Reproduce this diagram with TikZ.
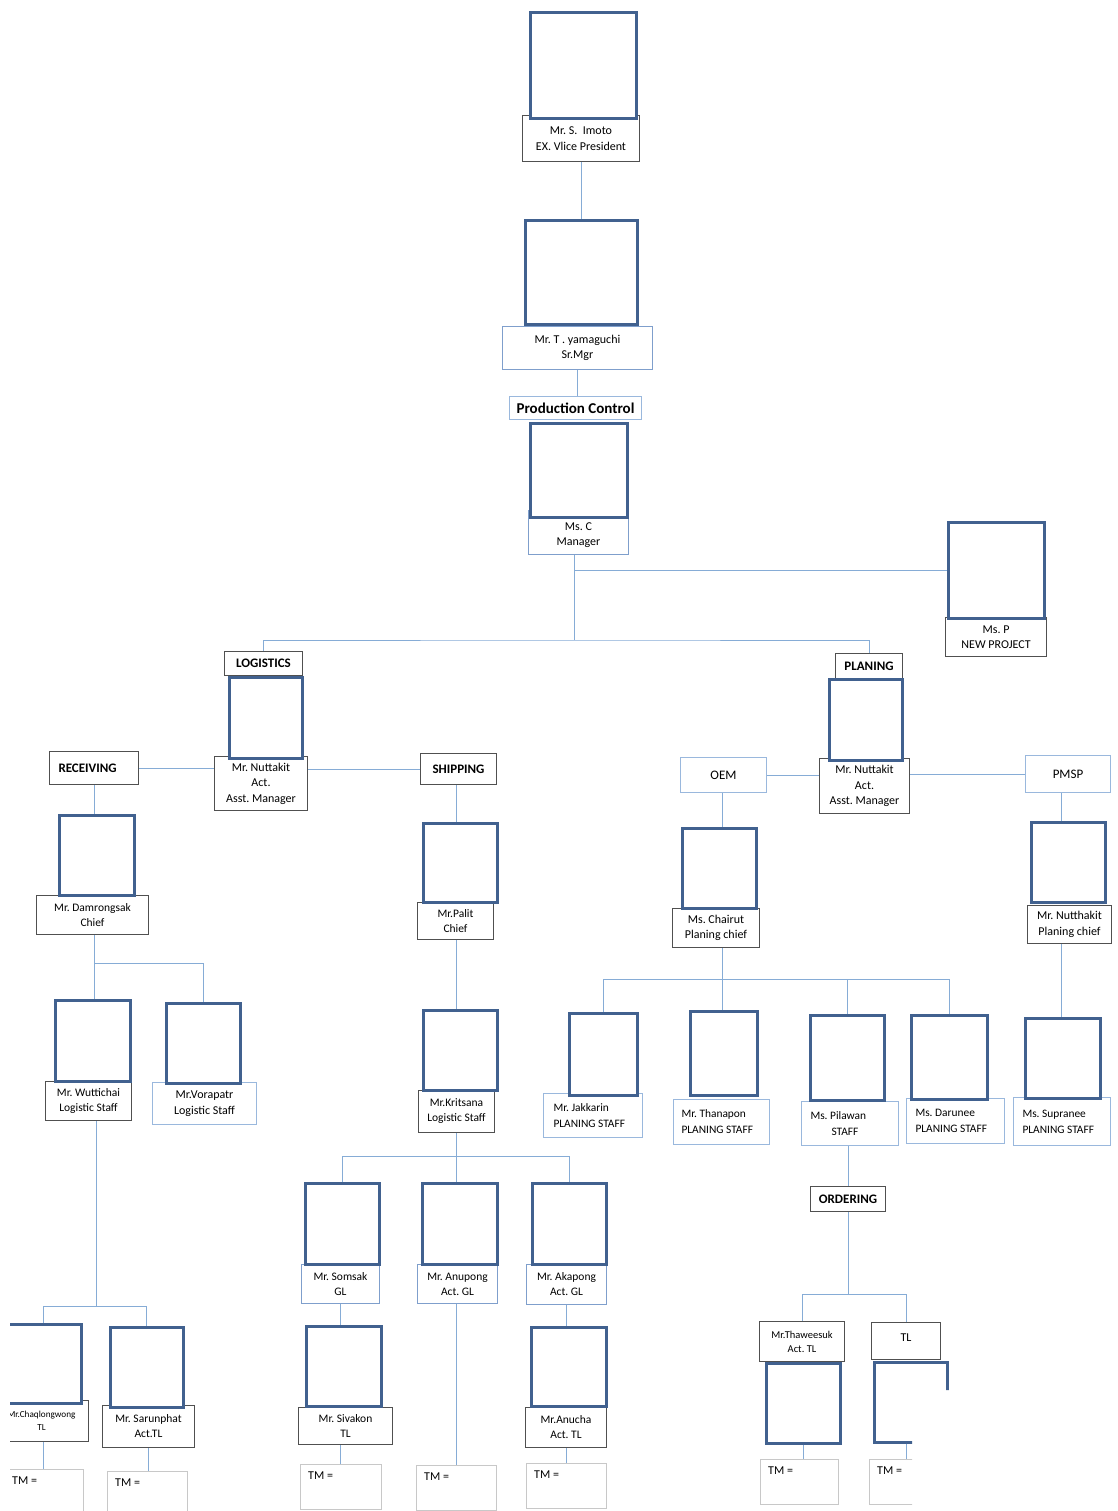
\documentclass[tikz,border=0pt]{standalone}
\usepackage{fontspec}
\setmainfont{Carlito}
\usetikzlibrary{calc}
\definecolor{photoC}{HTML}{41618F}
\definecolor{darkC}{HTML}{505050}
\definecolor{blueB}{HTML}{7F9FCC}
\definecolor{lblueB}{HTML}{9AB8DD}
\definecolor{connC}{HTML}{86ACD6}
\definecolor{tmC}{HTML}{C8C8C8}
\newcommand\fs[2]{\fontsize{#1}{#2}\selectfont}
% box from its top-left to its bottom-right corner
\newcommand\bx[7]{\node[#1,anchor=north west,inner sep=0pt,minimum width={#5-#3},minimum height={#6-#4}] (#2) at (#3,#4) {#7};}
\tikzset{
  photo/.style={draw=photoC, line width=2.6pt, fill=white},
  lab/.style={draw=darkC, line width=1pt, fill=white, align=center, font=\fs{12}{15.5}},
  fsS/.style={font=\fs{11.5}{15}},
  bluelab/.style={lab, draw=blueB},
  lbluelab/.style={lab, draw=lblueB},
  hdr/.style={draw=darkC, line width=1pt, fill=white, font=\bfseries\fs{13}{15}},
  stafflab/.style={lab, draw=lblueB, align=flush left, text width=#1, font=\fs{11.4}{16}},
  tm/.style={draw=tmC, line width=1pt, fill=white,
    label={[anchor=north west, inner sep=0pt, font=\fs{12}{14}, xshift=8pt, yshift=-8pt]north west:TM =}},
  conn/.style={draw=connC, line width=0.95pt},
}
\frenchspacing
\begin{document}
\begin{tikzpicture}[x=1pt,y=-1pt]
\useasboundingbox (0,0) rectangle (1117,1511);
\fill[white] (0,0) rectangle (1117,1511);
\clip (0,0) rectangle (1117,1511);

% ---- top of the chart
\bx{lab}{imotoL}{522}{115}{639}{161}{Mr. S.\ \ Imoto\\EX. Vlice President}
\bx{photo}{imotoP}{529}{11}{635}{117}{}
\bx{bluelab}{yamaL}{502}{326}{652}{369}{Mr. T . yamaguchi\\Sr.Mgr}
\bx{photo}{yamaP}{524}{219}{636}{323}{}
\bx{hdr,draw=lblueB,font=\bfseries\fs{15}{17}}{pc}{509}{396}{641}{419}{Production Control}
\bx{bluelab}{mscL}{528}{510}{628}{554}{\rule{0pt}{13pt}Ms. C\\Manager}
\bx{photo}{mscP}{529}{422}{626}{516}{}
\bx{lab}{mspL}{945}{617}{1046}{656}{Ms. P\\NEW PROJECT}
\bx{photo}{mspP}{947}{521}{1043}{617}{}

% ---- logistics
\bx{hdr}{logH}{224}{651}{302}{675}{LOGISTICS}
\bx{lab}{lnutL}{214}{756}{307}{810}{Mr. Nuttakit\\Act.\\Asst. Manager}
\bx{photo}{lnutP}{228}{676}{301}{757}{}
\bx{hdr,align=flush left,text width=71pt}{recv}{49}{751}{138}{784}{RECEIVING}
\bx{hdr}{ship}{420}{753}{496}{784}{SHIPPING}
\bx{lab,fsS}{damL}{36}{895}{148}{934}{Mr. Damrongsak\\Chief}
\bx{photo}{damP}{58}{814}{133}{894}{}
\bx{lab,fsS}{wutL}{45}{1081}{131}{1120}{Mr. Wuttichai\\Logistic Staff}
\bx{photo}{wutP}{54}{999}{129}{1080}{}
\bx{lbluelab}{vorL}{152}{1082}{256}{1124}{Mr.Vorapatr\\Logistic Staff}
\bx{photo}{vorP}{165}{1002}{239}{1082}{}

\begin{scope}
  \clip (10,1290) rectangle (100,1511);
  \bx{lab,font=\fs{9.2}{13}}{chaL}{-6}{1400}{88}{1441}{Mr.Chaqlongwong\\TL}
  \bx{photo}{chaP}{5}{1323}{80}{1402}{}
  \bx{tm}{chaTM}{4}{1469}{83}{1520}{}
\end{scope}
\bx{lab,fsS}{sarL}{102}{1405}{194}{1447}{Mr. Sarunphat\\Act.TL}
\bx{photo}{sarP}{109}{1326}{182}{1406}{}
\bx{tm}{sarTM}{107}{1471}{187}{1520}{}

% ---- shipping
\bx{lab,fsS}{palL}{417}{902}{493}{939}{Mr.Palit\\Chief}
\bx{photo}{palP}{422}{822}{496}{901}{}
\bx{lab,fsS}{kriL}{418}{1090}{494}{1132}{Mr.Kritsana\\Logistic Staff}
\bx{photo}{kriP}{422}{1009}{496}{1089}{}
\bx{bluelab,fsS}{somL}{301}{1264}{379}{1303}{Mr. Somsak\\GL}
\bx{photo}{somP}{304}{1182}{378}{1263}{}
\bx{bluelab,fsS}{anuL}{417}{1264}{497}{1303}{Mr. Anupong\\Act. GL}
\bx{photo}{anuP}{421}{1182}{496}{1263}{}
\bx{bluelab,fsS}{akaL}{526}{1264}{606}{1304}{Mr. Akapong\\Act. GL}
\bx{photo}{akaP}{531}{1182}{605}{1263}{}
\bx{lab,fsS}{sivL}{298}{1407}{392}{1444}{Mr. Sivakon\\TL}
\bx{photo}{sivP}{305}{1325}{380}{1405}{}
\bx{tm}{sivTM}{300}{1464}{381}{1509}{}
\bx{tm}{anuTM}{416}{1465}{496}{1510}{}
\bx{lab,fsS}{anuchL}{525}{1407}{606}{1447}{Mr.Anucha\\Act. TL}
\bx{photo}{anuchP}{530}{1326}{605}{1405}{}
\bx{tm}{anuchTM}{526}{1463}{606}{1508}{}

% ---- planning
\bx{hdr}{planH}{835}{653}{902}{678}{PLANING}
\bx{lab}{pnutL}{819}{758}{909}{813}{Mr. Nuttakit\\Act.\\Asst. Manager}
\bx{photo}{pnutP}{828}{678}{901}{759}{}
\bx{lbluelab,font=\fs{13}{15}}{oem}{680}{757}{766}{792}{OEM}
\bx{lbluelab,font=\fs{13}{15}}{pmsp}{1025}{755}{1110}{792}{PMSP}
\bx{lab}{chaiL}{672}{908}{759}{947}{Ms. Chairut\\Planing chief}
\bx{photo}{chaiP}{681}{827}{755}{907}{}
\bx{lab}{nutL}{1027}{905}{1111}{943}{Mr. Nutthakit\\Planing chief}
\bx{photo}{nutP}{1030}{821}{1104}{901}{}
\bx{stafflab=79pt}{supL}{1013}{1097}{1110}{1145}{Ms. Supranee\\PLANING STAFF}
\bx{photo}{supP}{1024}{1017}{1099}{1097}{}
\bx{stafflab=79pt}{jakL}{543}{1093}{642}{1137}{Mr. Jakkarin\\PLANING STAFF}
\bx{photo}{jakP}{568}{1012}{636}{1094}{}
\bx{stafflab=80pt}{thaL}{673}{1099}{769}{1144}{Mr. Thanapon\\PLANING STAFF}
\bx{photo}{thaP}{689}{1010}{756}{1094}{}
\bx{stafflab=79pt}{pilL}{801}{1101}{898}{1145}{Ms. Pilawan\\\hspace*{21pt}STAFF}
\bx{photo}{pilP}{809}{1014}{883}{1099}{}
\bx{stafflab=80pt}{darL}{906}{1098}{1004}{1143}{Ms. Darunee\\PLANING STAFF}
\bx{photo}{darP}{910}{1014}{986}{1098}{}
\bx{hdr}{ord}{810}{1186}{885}{1211}{ORDERING}
\bx{lab,font=\fs{10.5}{14}}{thawL}{759}{1321}{844}{1361}{Mr.Thaweesuk\\Act. TL}
\bx{photo}{thawP}{765}{1362}{839}{1442}{}
\bx{tm}{thawTM}{760}{1459}{838}{1504}{}
\begin{scope}
  \clip (860,1300) -- (960,1300) -- (960,1390) -- (912,1390) -- (912,1511) -- (860,1511) -- cycle;
  \bx{lab,font=\fs{12}{15}}{tlL}{871}{1322}{940}{1359}{\smash{TL}}
  \bx{photo}{tlP}{873}{1361}{946}{1441}{}
  \bx{tm}{tlTM}{869}{1459}{950}{1504}{}
  \draw[conn] (tlP.south -| tlL.north) -- (tlL.north |- tlTM.north);
\end{scope}

% ---- connectors
\draw[conn] (imotoL.south) -- (imotoL.south |- yamaP.north);
\draw[conn] (yamaL.south) -- (yamaL.south |- pc.north);
\coordinate (jc) at (574,640);
\draw[conn] (mscL.south -| jc) -- (jc);
\draw[conn] (logH.north) |- (jc) -| (planH.north);
\draw[conn] (mspP.west) -- (mspP.west -| jc);

\draw[conn] (recv.east) -- (recv.east -| lnutL.west);
\draw[conn] (ship.west) -- (ship.west -| lnutL.east);
\draw[conn] (recv.south) -- (recv.south |- damP.north);
\coordinate (jr) at (94,963);
\draw[conn] (damL.south -| jr) -- (jr |- wutP.north);
\draw[conn] (jr) -| (vorP.north);
\coordinate (jw) at (96,1306);
\draw[conn] (wutL.south -| jw) -- (jw);
\begin{scope}
  \clip (10,1290) rectangle (100,1511);
  \draw[conn] (chaP.north |- chaL.south) -- (chaP.north |- chaTM.north);
\end{scope}
\draw[conn] (chaP.north) |- (jw) -| (sarP.north);
\draw[conn] (sarL.south) -- (sarL.south |- sarTM.north);

\coordinate (js) at (456,1156);
\draw[conn] (ship.south -| js) -- (js |- palP.north);
\draw[conn] (palL.south -| js) -- (js |- kriP.north);
\draw[conn] (kriL.south -| js) -- (js |- anuP.north);
\draw[conn] (somP.north) |- (js) -| (akaP.north);
\draw[conn] (somL.south) -- (somL.south |- sivP.north);
\draw[conn] (somL.south |- sivL.south) -- (somL.south |- sivTM.north);
\draw[conn] (anuL.south -| js) -- (js |- anuTM.north);
\draw[conn] (akaL.south) -- (akaL.south |- anuchP.north);
\draw[conn] (anuchL.south) -- (anuchL.south |- anuchTM.north);

\draw[conn] (oem.east) -- (oem.east -| pnutL.west);
\draw[conn] (pmsp.west) -- (pmsp.west -| pnutL.east);
\coordinate (jo) at (722,979);
\draw[conn] (oem.south -| jo) -- (jo |- chaiP.north);
\draw[conn] (chaiL.south -| jo) -- (jo |- thaP.north);
\draw[conn] (jakP.north) |- (jo) -| (darP.north);
\draw[conn] (pilP.north) -- (pilP.north |- jo);
\coordinate (jm) at (1061,0);
\draw[conn] (pmsp.south -| jm) -- (jm |- nutP.north);
\draw[conn] (nutL.south -| jm) -- (jm |- supP.north);
\coordinate (jd) at (848,1294);
\draw[conn] (pilL.south -| jd) -- (jd |- ord.north);
\draw[conn] (ord.south -| jd) -- (jd);
\draw[conn] (thawL.north) |- (jd) -| (tlL.north);
\draw[conn] (thawP.south) -- (thawP.south |- thawTM.north);
\end{tikzpicture}
\end{document}
